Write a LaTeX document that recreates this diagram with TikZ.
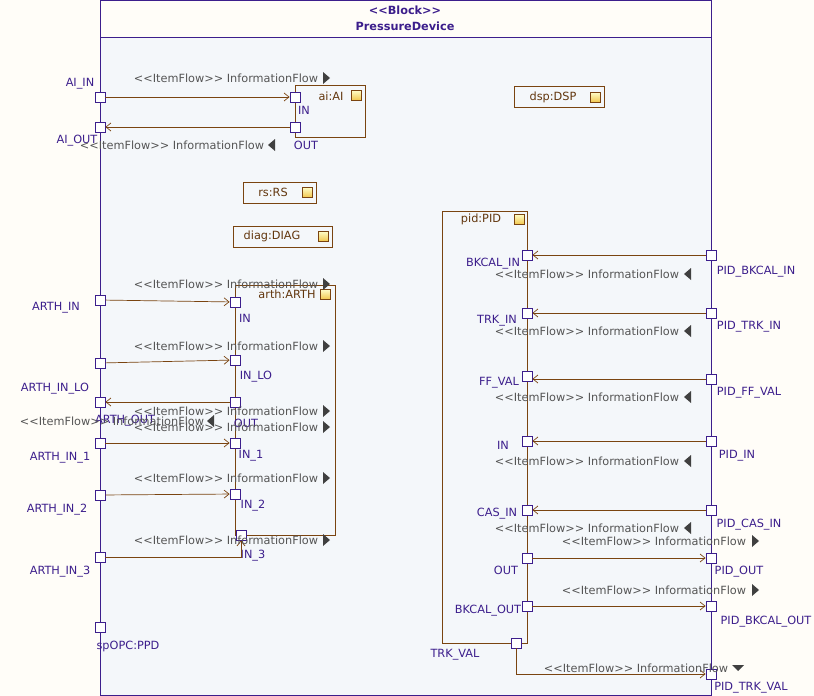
\documentclass[tikz,border=0pt]{standalone}
\usepackage{fontspec}
\setmainfont{DejaVu Sans}
\usetikzlibrary{arrows.meta}
\definecolor{bgout}{HTML}{FFFDF8}
\definecolor{bgin}{HTML}{F4F7FA}
\definecolor{pur}{HTML}{3C1E8C}
\definecolor{brn}{HTML}{7A4410}
\definecolor{gold}{HTML}{F2C850}
\definecolor{ftxt}{HTML}{555555}
\newcommand{\myll}{<\kern0pt<}
\newcommand{\mygg}{>\kern0pt>}
\tikzset{x=1pt,y=-1pt,
 port/.style={draw=pur,fill=white,minimum size=10pt,inner sep=0pt,line width=0.8pt},
 lbl/.style={text=pur,font=\fontsize{11.3}{12}\selectfont,inner sep=0pt},
 flw/.style={text=ftxt,font=\fontsize{11.3}{12}\selectfont,inner sep=0pt},
 part/.style={draw=brn,line width=0.8pt},
 con/.style={draw=brn,line width=0.7pt,-{Straight Barb[length=5pt,width=8pt]}},
 icon/.style={draw=brn,top color=yellow!20,bottom color=gold,minimum size=10pt,inner sep=0pt},
 pname/.style={text=brn!80!black,font=\fontsize{11.3}{12}\selectfont,inner sep=0pt}}
\begin{document}
\begin{tikzpicture}
\fill[bgout] (0,0) rectangle (814,696);
\useasboundingbox (0,0) rectangle (814,696);
\fill[bgin] (100,37) rectangle (711,695);
\draw[pur,line width=0.8pt] (100,0) rectangle (711,695) (100,37) -- (711,37);
\node[text=pur,font=\bfseries\fontsize{11.3}{12}\selectfont] (t1) at (405,10) {\myll Block\mygg};
\node[text=pur,font=\bfseries\fontsize{11.3}{12}\selectfont] (t2) at (405,26) {PressureDevice};
% simple parts
\draw[part] (514,86) rectangle (604,107); \node[pname] (dsp) at (553,97) {dsp:DSP}; \node[icon] (dspi) at (595,97) {};
\draw[part] (243,182) rectangle (316,203); \node[pname] (rs) at (273,192) {rs:RS}; \node[icon] (rsi) at (307,192) {};
\draw[part] (233,226) rectangle (332,247); \node[pname] (diag) at (272,236) {diag:DIAG}; \node[icon] (diagi) at (323,236) {};
% ai
\draw[part] (295,85) rectangle (365,137); \node[pname] (ai) at (331,96) {ai:AI}; \node[icon] (aii) at (356,95) {};
\node[port] (aiin) at (295,97) {}; \node[port] (aiout) at (295,127) {};
\node[lbl] at (304,110) {IN}; \node[lbl] at (306,145) {OUT};
% arth
\draw[part] (235,285) rectangle (335,535); \node[pname] (arth) at (287,294) {arth:ARTH}; \node[icon] (arthi) at (325,294) {};
\node[port] (ain) at (235,302) {}; \node[port] (ainlo) at (235,360) {}; \node[port] (aout) at (235,402) {};
\node[port] (ain1) at (235,443) {}; \node[port] (ain2) at (235,494) {}; \node[port] (ain3) at (241,535) {};
\node[lbl] at (245,318) {IN}; \node[lbl] at (256,377) {IN\_LO}; \node[lbl] at (246,423) {OUT};
\node[lbl] at (251,456) {IN\_1}; \node[lbl] at (253,506) {IN\_2}; \node[lbl] at (253,556) {IN\_3};
% pid
\draw[part] (442,211) rectangle (527,643); \node[pname] (pid) at (481,219) {pid:PID}; \node[icon] (pidi) at (519,219) {};
\foreach \n/\y in {bkin/255,trkin/313,ffval/376,pin/441,casin/510,pout/558,bkout/606}{\node[port] (\n) at (527,\y) {};}
\node[port] (trkval) at (516,643) {};
\node[lbl] at (493,264) {BKCAL\_IN}; \node[lbl] at (497,321) {TRK\_IN}; \node[lbl] at (499,383) {FF\_VAL};
\node[lbl] at (503,445) {IN}; \node[lbl] at (497,514) {CAS\_IN}; \node[lbl] at (506,570) {OUT};
\node[lbl] at (488,611) {BKCAL\_OUT}; \node[lbl] at (455,655) {TRK\_VAL};
% left boundary ports
\node[port] (bAIIN) at (100,97) {}; \node[port] (bAIOUT) at (100,127) {};
\node[port] (bARIN) at (100,300) {}; \node[port] (bARLO) at (100,363) {}; \node[port] (bAROUT) at (100,402) {};
\node[port] (bAR1) at (100,443) {}; \node[port] (bAR2) at (100,495) {}; \node[port] (bAR3) at (100,557) {};
\node[port] (bPPD) at (100,627) {};
\node[lbl] at (80,84) {AI\_IN}; \node[lbl] at (77,141) {AI\_OUT};
\node[lbl] at (56,308) {ARTH\_IN}; \node[lbl] at (55,389) {ARTH\_IN\_LO}; \node[lbl] at (125,421) {ARTH\_OUT};
\node[lbl] at (60,458) {ARTH\_IN\_1}; \node[lbl] at (57,510) {ARTH\_IN\_2}; \node[lbl] at (60,572) {ARTH\_IN\_3};
\node[lbl] at (128,646) {spOPC:PPD};
% right boundary ports
\foreach \n/\y in {rbkin/255,rtrkin/313,rffval/379,rpin/441,rcasin/510,rpout/558,rbkout/606,rtrkval/674}{\node[port] (\n) at (711,\y) {};}
\node[lbl] at (756,272) {PID\_BKCAL\_IN}; \node[lbl] at (749,327) {PID\_TRK\_IN}; \node[lbl] at (749,393) {PID\_FF\_VAL};
\node[lbl] at (737,456) {PID\_IN}; \node[lbl] at (749,525) {PID\_CAS\_IN}; \node[lbl] at (739,572) {PID\_OUT};
\node[lbl] at (766,622) {PID\_BKCAL\_OUT}; \node[lbl] at (751,688) {PID\_TRK\_VAL};
% connectors
\draw[con] (bAIIN) -- (aiin); \draw[con] (aiout) -- (bAIOUT);
\draw[con] (bARIN) -- (ain); \draw[con] (bARLO) -- (ainlo); \draw[con] (aout) -- (bAROUT);
\draw[con] (bAR1) -- (ain1); \draw[con] (bAR2) -- (ain2);
\draw[con] (bAR3.east) -- (241,557) -- (ain3.south);
\draw[con] (rbkin) -- (bkin); \draw[con] (rtrkin) -- (trkin); \draw[con] (rffval) -- (ffval.east|-rffval);
\draw[con] (rpin) -- (pin); \draw[con] (rcasin) -- (casin);
\draw[con] (pout) -- (rpout); \draw[con] (bkout) -- (rbkout);
\draw[con] (trkval.south) -- (516,674) -- (rtrkval.west);
% flow labels
\newcommand{\fr}[3]{\node[flw] at (#1,#2) {\myll ItemFlow\mygg{} InformationFlow}; \fill[black!75] (#3-3,#2-6) -- (#3+4,#2) -- (#3-3,#2+6) -- cycle;}
\newcommand{\fl}[3]{\node[flw] at (#1,#2) {\myll ItemFlow\mygg{} InformationFlow}; \fill[black!75] (#3+3,#2-6) -- (#3-4,#2) -- (#3+3,#2+6) -- cycle;}
\fr{226}{78}{326} \fl{172}{145}{272}
\fr{226}{284}{326} \fr{226}{346}{326} \fr{226}{411}{326} \fr{226}{427}{326}
\fl{112}{421}{211} \fr{226}{478}{326} \fr{226}{540}{326}
\fl{587}{274}{688} \fl{587}{331}{688} \fl{587}{397}{688} \fl{587}{461}{688} \fl{587}{528}{688}
\fr{654}{541}{755} \fr{654}{590}{755}
\node[flw] at (636,668) {\myll ItemFlow\mygg{} InformationFlow}; \fill[black!75] (732,665) -- (744,665) -- (738,671) -- cycle;
\end{tikzpicture}
\end{document}
